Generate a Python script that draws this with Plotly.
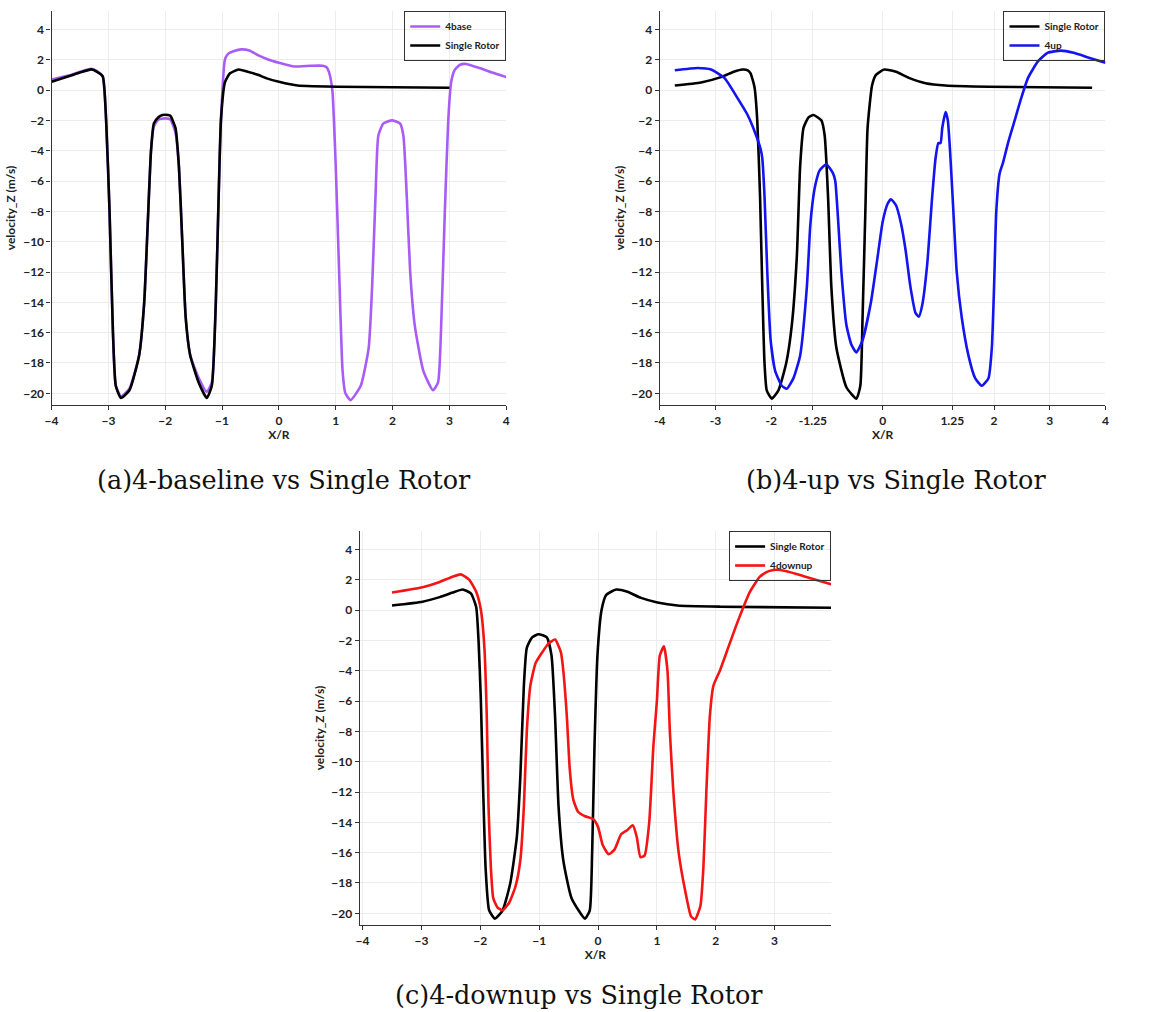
import plotly.graph_objects as go

# ---------------- data ----------------
# Panel (a)
a_single_x = [-4.0, -3.7, -3.5, -3.3, -3.2, -3.1, -3.04, -2.98, -2.92, -2.87, -2.78, -2.63, -2.46, -2.37, -2.31, -2.25, -2.2, -2.12, -2.05, -1.95, -1.91, -1.82, -1.76, -1.70, -1.64, -1.56, -1.41, -1.27, -1.18, -1.11, -1.06, -1.02, -0.95, -0.86, -0.71, -0.55, -0.37, -0.2, 0.0, 0.33, 0.6, 1.03, 2.0, 3.0]
a_single_y = [0.55, 0.9, 1.15, 1.36, 1.2, 0.9, -2.0, -8.0, -16.0, -19.5, -20.3, -19.8, -17.5, -14.0, -9.0, -4.0, -2.2, -1.8, -1.65, -1.65, -1.7, -2.5, -5.0, -10.0, -15.0, -17.5, -19.3, -20.3, -19.5, -14.0, -7.0, -2.0, 0.5, 1.1, 1.35, 1.2, 1.0, 0.75, 0.55, 0.3, 0.25, 0.22, 0.18, 0.15]

a_base_x = [-4.0, -3.7, -3.5, -3.3, -3.2, -3.1, -3.04, -2.98, -2.92, -2.87, -2.78, -2.63, -2.46, -2.37, -2.31, -2.25, -2.2, -2.12, -2.0, -1.91, -1.82, -1.76, -1.70, -1.64, -1.56, -1.41, -1.27, -1.18, -1.11, -1.06, -1.02, -0.95, -0.89, -0.80, -0.66, -0.52, -0.37, -0.18, 0.0, 0.27, 0.56, 0.77, 0.84, 0.88, 0.94, 1.0, 1.06, 1.12, 1.17, 1.26, 1.44, 1.58, 1.64, 1.70, 1.75, 1.84, 1.99, 2.13, 2.19, 2.25, 2.31, 2.39, 2.54, 2.71, 2.80, 2.86, 2.92, 2.98, 3.03, 3.09, 3.18, 3.29, 3.53, 3.75, 4.0]
a_base_y = [0.7, 0.95, 1.2, 1.4, 1.25, 0.9, -2.0, -8.0, -16.0, -19.5, -20.2, -19.7, -17.5, -14.0, -9.0, -4.0, -2.4, -1.95, -1.87, -1.95, -2.8, -5.0, -10.0, -15.0, -17.5, -19.0, -19.9, -19.3, -14.0, -7.0, -2.0, 2.0, 2.4, 2.55, 2.68, 2.6, 2.3, 2.0, 1.8, 1.55, 1.6, 1.6, 1.5, 1.2, 0.0, -5.0, -12.0, -18.5, -20.0, -20.45, -19.5, -17.0, -13.0, -7.0, -3.0, -2.2, -2.0, -2.2, -3.0, -7.0, -12.0, -15.5, -18.5, -19.8, -19.3, -15.0, -8.0, -2.0, 0.5, 1.3, 1.65, 1.72, 1.45, 1.15, 0.85]

# Panel (b)
b_single_x = [-3.73, -3.26, -2.90, -2.67, -2.52, -2.42, -2.37, -2.30, -2.25, -2.20, -2.16, -2.12, -2.08, -1.99, -1.87, -1.73, -1.63, -1.54, -1.48, -1.42, -1.33, -1.24, -1.10, -1.04, -0.98, -0.92, -0.83, -0.65, -0.47, -0.40, -0.36, -0.31, -0.27, -0.19, -0.12, 0.03, 0.24, 0.47, 0.77, 1.13, 1.90, 3.76]
b_single_y = [0.3, 0.5, 0.85, 1.2, 1.35, 1.3, 1.1, 0.2, -2.0, -7.0, -13.0, -18.0, -19.8, -20.35, -19.8, -18.0, -15.5, -11.0, -5.0, -2.5, -1.8, -1.65, -2.0, -3.0, -7.0, -13.0, -17.0, -19.6, -20.35, -19.5, -15.0, -8.0, -2.5, 0.3, 1.0, 1.35, 1.2, 0.8, 0.45, 0.3, 0.22, 0.15]

b_up_x = [-3.73, -3.32, -3.08, -2.84, -2.61, -2.43, -2.28, -2.19, -2.16, -2.12, -2.07, -2.01, -1.93, -1.81, -1.72, -1.60, -1.48, -1.36, -1.30, -1.26, -1.21, -1.13, -1.01, -0.89, -0.85, -0.80, -0.74, -0.65, -0.56, -0.47, -0.36, -0.21, -0.09, 0.0, 0.09, 0.15, 0.24, 0.33, 0.41, 0.50, 0.59, 0.65, 0.71, 0.80, 0.89, 0.95, 1.00, 1.04, 1.07, 1.13, 1.17, 1.21, 1.27, 1.33, 1.42, 1.54, 1.66, 1.78, 1.90, 1.96, 2.00, 2.04, 2.10, 2.16, 2.25, 2.37, 2.49, 2.61, 2.79, 2.96, 3.20, 3.43, 3.73, 4.0]
b_up_y = [1.3, 1.45, 1.35, 0.8, -0.5, -1.6, -2.9, -3.9, -4.5, -7.0, -12.0, -16.5, -18.5, -19.5, -19.7, -19.0, -17.5, -13.0, -9.0, -7.5, -6.3, -5.3, -4.9, -5.5, -6.0, -8.5, -12.0, -15.5, -16.8, -17.3, -16.5, -14.0, -11.0, -8.7, -7.5, -7.2, -7.6, -8.8, -10.5, -13.0, -14.7, -14.95, -14.2, -11.5, -7.0, -4.5, -3.5, -3.5, -2.5, -1.45, -2.0, -4.0, -8.0, -12.0, -15.0, -17.5, -19.0, -19.5, -19.0, -17.0, -13.0, -8.0, -5.5, -4.8, -3.5, -2.0, -0.5, 0.8, 1.9, 2.45, 2.6, 2.45, 2.1, 1.8]

# Panel (c)
c_single_x = [-3.50, -2.98, -2.69, -2.47, -2.30, -2.16, -2.07, -2.03, -1.99, -1.95, -1.91, -1.85, -1.75, -1.62, -1.49, -1.38, -1.32, -1.26, -1.21, -1.12, -1.01, -0.87, -0.79, -0.73, -0.67, -0.59, -0.45, -0.22, -0.14, -0.10, -0.06, -0.01, 0.06, 0.14, 0.31, 0.50, 0.73, 1.01, 1.35, 2.08, 3.96]
c_single_y = [0.3, 0.55, 0.85, 1.15, 1.35, 1.1, 0.2, -2.0, -6.0, -12.0, -17.0, -19.8, -20.35, -19.8, -18.0, -15.0, -11.0, -5.0, -2.5, -1.8, -1.6, -1.8, -3.0, -7.0, -13.0, -16.5, -19.0, -20.35, -19.8, -16.0, -9.0, -3.0, 0.0, 1.0, 1.35, 1.2, 0.8, 0.5, 0.3, 0.22, 0.15]

c_downup_x = [-3.50, -2.98, -2.69, -2.47, -2.33, -2.19, -2.07, -1.99, -1.93, -1.89, -1.86, -1.82, -1.78, -1.71, -1.62, -1.51, -1.40, -1.32, -1.26, -1.21, -1.15, -1.06, -0.95, -0.84, -0.73, -0.63, -0.59, -0.53, -0.48, -0.42, -0.34, -0.22, -0.08, 0.0, 0.08, 0.18, 0.28, 0.39, 0.50, 0.59, 0.66, 0.72, 0.79, 0.87, 0.94, 1.00, 1.05, 1.12, 1.18, 1.22, 1.28, 1.37, 1.48, 1.58, 1.65, 1.74, 1.79, 1.84, 1.90, 1.96, 2.07, 2.21, 2.35, 2.47, 2.58, 2.75, 2.89, 3.03, 3.20, 3.48, 3.96]
c_downup_y = [1.15, 1.5, 1.85, 2.2, 2.35, 2.0, 1.2, 0.0, -2.5, -7.0, -13.0, -17.0, -19.0, -19.6, -19.8, -19.3, -18.2, -16.5, -13.0, -8.0, -5.0, -3.5, -2.8, -2.2, -1.95, -2.8, -4.0, -7.0, -10.5, -12.5, -13.3, -13.6, -13.8, -14.3, -15.5, -16.1, -15.8, -14.8, -14.5, -14.2, -15.0, -16.3, -16.2, -14.0, -9.0, -6.0, -3.0, -2.4, -4.0, -8.0, -12.0, -16.0, -18.5, -20.2, -20.4, -19.5, -17.0, -12.0, -7.0, -5.0, -4.0, -2.5, -1.0, 0.2, 1.2, 2.2, 2.55, 2.65, 2.55, 2.25, 1.7]

y_ticks = [4, 2, 0, -2, -4, -6, -8, -10, -12, -14, -16, -18, -20]
a_x_ticks = [-4, -3, -2, -1, 0, 1, 2, 3, 4]
b_x_ticks = [-4, -3, -2, -1.25, 0, 1.25, 2, 3, 4]
b_x_ticktext = ["-4", "-3", "-2", "-1.25", "0", "1.25", "2", "3", "4"]
c_x_ticks = [-4, -3, -2, -1, 0, 1, 2, 3]

captions = ["(a)4-baseline vs Single Rotor", "(b)4-up vs Single Rotor", "(c)4-downup vs Single Rotor"]

# ---------------- figure ----------------
W, H = 1161, 1012
PURPLE = "#a95cf5"
BLUE = "#1414f0"
RED = "#f51414"
BLACK = "#000000"
LW = 2.6

fig = go.Figure()

def add(x, y, name, color, xa, ya, leg):
    fig.add_trace(go.Scatter(x=x, y=y, mode="lines", name=name,
                             line=dict(color=color, width=LW, shape="spline", smoothing=0.5),
                             xaxis=xa, yaxis=ya, legend=leg))

add(a_base_x, a_base_y, "4base", PURPLE, "x", "y", "legend")
add(a_single_x, a_single_y, "Single Rotor", BLACK, "x", "y", "legend")
add(b_single_x, b_single_y, "Single Rotor", BLACK, "x2", "y2", "legend2")
add(b_up_x, b_up_y, "4up", BLUE, "x2", "y2", "legend2")
add(c_single_x, c_single_y, "Single Rotor", BLACK, "x3", "y3", "legend3")
add(c_downup_x, c_downup_y, "4downup", RED, "x3", "y3", "legend3")

def px_x(p):
    return p / W

def px_y(p):
    return 1 - p / H

tickfont = dict(family="Lato", size=12, color="#222222", weight="bold")
titlefont = dict(family="Lato", size=12, color="#222222", weight="bold")

def xaxis(dom, rng, tv, tt=None):
    return dict(domain=dom, range=rng, tickvals=tv, ticktext=tt, showline=True, linecolor="#333333",
                linewidth=1.2, ticks="outside", ticklen=4, tickcolor="#333333", showgrid=True,
                gridcolor="#ececec", gridwidth=1, zeroline=False, tickfont=tickfont,
                title=dict(text="X/R", font=titlefont, standoff=2))

def yaxis(dom, rng, anchor):
    return dict(domain=dom, range=rng, tickvals=y_ticks, showline=True, linecolor="#333333",
                linewidth=1.2, ticks="outside", ticklen=4, tickcolor="#333333", showgrid=True,
                gridcolor="#ececec", gridwidth=1, zeroline=False, tickfont=tickfont, anchor=anchor,
                title=dict(text="velocity_Z (m/s)", font=titlefont, standoff=4))

yr = [-20.77, 5.21]
top_dom = [px_y(405), px_y(11)]
bot_dom = [px_y(925), px_y(531)]

fig.update_layout(
    width=W, height=H, margin=dict(l=0, r=0, t=0, b=0),
    paper_bgcolor="white", plot_bgcolor="white",
    xaxis=dict(xaxis([px_x(45), px_x(504)], [-4, 4], a_x_ticks), anchor="y"),
    yaxis=yaxis(top_dom, yr, "x"),
    xaxis2=dict(xaxis([px_x(659), px_x(1109)], [-4, 4], b_x_ticks, b_x_ticktext), anchor="y2"),
    yaxis2=yaxis(top_dom, yr, "x2"),
    xaxis3=dict(xaxis([px_x(356), px_x(832)], [-4.05, 3.96], c_x_ticks), anchor="y3"),
    yaxis3=yaxis(bot_dom, yr, "x3"),
    showlegend=True,
)

legfont = dict(family="Lato", size=10, color="#222222", weight="bold")
for key, xr, yt in [("legend", 504, 11), ("legend2", 1109, 11), ("legend3", 832, 531)]:
    fig.update_layout({key: dict(x=px_x(xr), y=px_y(yt), xanchor="right", yanchor="top",
                                 xref="paper", yref="paper", bordercolor="#333333", borderwidth=1,
                                 bgcolor="rgba(255,255,255,0)", font=legfont, itemwidth=30,
                                 tracegroupgap=0)})

capfont = dict(family="DejaVu Serif", size=25.5, color="#111111")
for txt, cx, cy in zip(captions, [280, 898, 577], [480, 480, 995]):
    fig.add_annotation(text=txt, x=px_x(cx), y=px_y(cy), xref="paper", yref="paper",
                       showarrow=False, xanchor="center", yanchor="middle", font=capfont)

fig.write_html("out.html")
